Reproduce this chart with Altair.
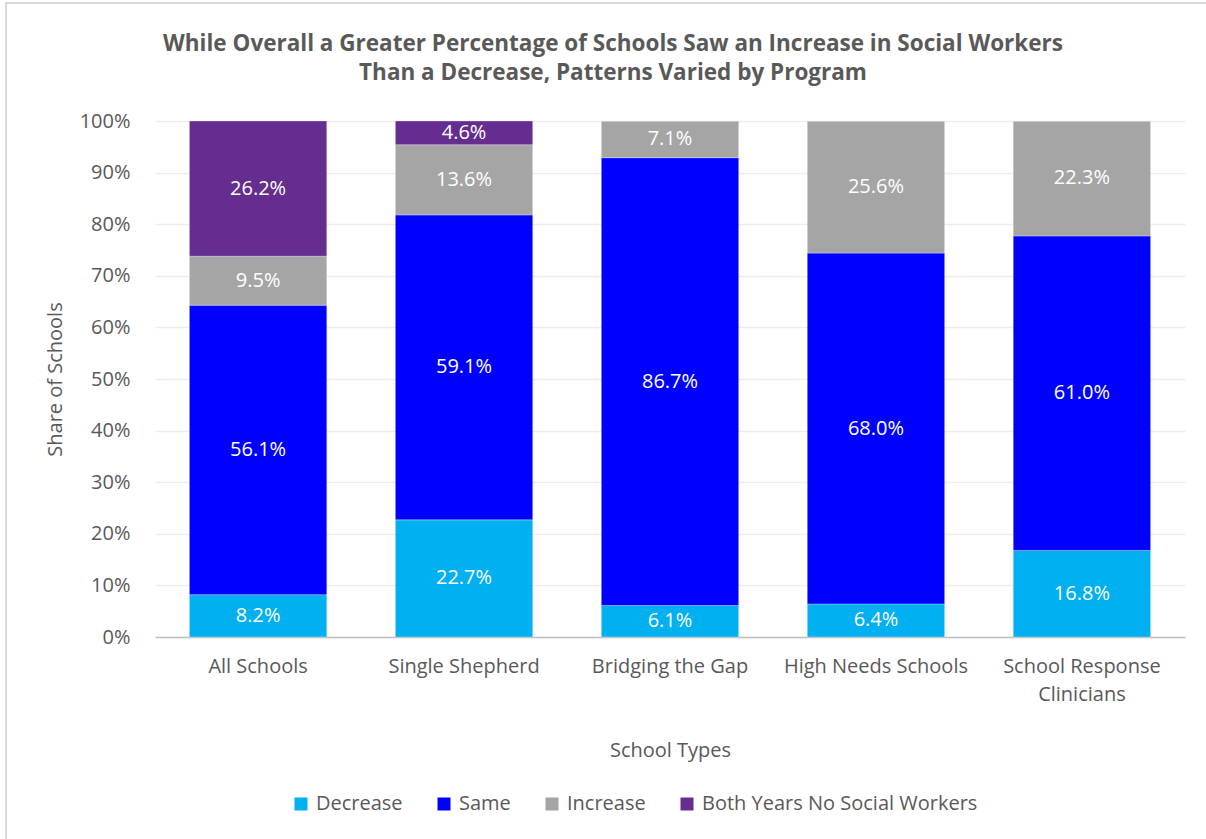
import altair as alt
import pandas as pd

categories = ["All Schools", "Single Shepherd", "Bridging the Gap",
              "High Needs Schools", "School Response Clinicians"]
series = ["Decrease", "Same", "Increase", "Both Years No Social Workers"]
decrease = [8.2, 22.7, 6.1, 6.4, 16.8]
same = [56.1, 59.1, 86.7, 68.0, 61.0]
increase = [9.5, 13.6, 7.1, 25.6, 22.3]
both_none = [26.2, 4.6, 0.0, 0.0, 0.0]
colors = ["#00B0F0", "#0000FF", "#A5A5A5", "#652D8F"]
y_ticks = [0, 0.1, 0.2, 0.3, 0.4, 0.5, 0.6, 0.7, 0.8, 0.9, 1.0]

rows = []
for i, c in enumerate(categories):
    for j, (s, vals) in enumerate(zip(series, [decrease, same, increase, both_none])):
        rows.append({"cat": c, "series": s, "order": j, "value": vals[i]})
df = pd.DataFrame(rows)

FONT = "Open Sans"
GREY = "#595959"

base = alt.Chart(df).transform_stack(
    stack="value", groupby=["cat"], sort=[alt.SortField("order")],
    as_=["y0", "y1"], offset="normalize"
).transform_calculate(
    mid="(datum.y0 + datum.y1) / 2",
    label="format(datum.value, '.1f') + '%'"
)

xenc = alt.X("cat:N", sort=categories,
             scale=alt.Scale(paddingInner=0.333, paddingOuter=0.167),
             axis=alt.Axis(title="School Types", labelAngle=0,
                           labelExpr="datum.label == 'School Response Clinicians' ? ['School Response', 'Clinicians'] : datum.label",
                           labelLineHeight=28, labelPadding=19, titlePadding=36,
                           ticks=False, domainColor="#BFBFBF", domainWidth=1.5,
                           grid=False, labelLimit=300))

bars = base.mark_bar(stroke="white", strokeWidth=0.5, strokeOpacity=0.6).encode(
    x=xenc,
    y=alt.Y("y0:Q", scale=alt.Scale(domain=[0, 1], nice=False),
            axis=alt.Axis(title="Share of Schools", format=".0%", values=y_ticks,
                          ticks=False, domain=False, gridColor="#EDEDED",
                          gridWidth=1.5, labelPadding=25, titlePadding=14)),
    y2="y1",
    color=alt.Color("series:N", sort=series,
                    scale=alt.Scale(domain=series, range=colors),
                    legend=alt.Legend(title=None, orient="none", direction="horizontal",
                                      legendX=136, legendY=673, symbolType="square",
                                      symbolSize=169, symbolStrokeWidth=0,
                                      labelOffset=5, columnPadding=31, labelLimit=400,
                                      labelFontSize=20, labelFont=FONT, labelColor=GREY)),
)

labels = base.transform_filter("datum.value > 0").mark_text(
    color="white", fontSize=20, font=FONT
).encode(
    x=alt.X("cat:N", sort=categories),
    y=alt.Y("mid:Q"),
    text="label:N",
)

border = alt.Chart(pd.DataFrame({"a": [0]})).mark_rect(
    fill=None, stroke="#D9D9D9", strokeWidth=2
).encode(x=alt.value(-149), x2=alt.value(1200), y=alt.value(-118), y2=alt.value(800))

chart = alt.layer(bars, labels, border).properties(
    width=1030, height=516,
    padding={"left": 155, "top": 121, "right": 21, "bottom": 202},
    autosize=alt.AutoSizeParams(type="none"),
    title=alt.TitleParams(
        ["While Overall a Greater Percentage of Schools Saw an Increase in Social Workers",
         "Than a Decrease, Patterns Varied by Program"],
        font=FONT, fontSize=22.5, fontWeight="bold", color=GREY,
        anchor="middle", frame="group", dx=-57, lineHeight=29, offset=-82),
).configure_view(stroke=None).configure_axis(
    labelFont=FONT, labelFontSize=20, labelColor=GREY,
    titleFont=FONT, titleFontSize=20, titleColor=GREY, titleFontWeight="normal"
)

chart.save("out.html", embed_options={"renderer": "svg", "actions": False})
